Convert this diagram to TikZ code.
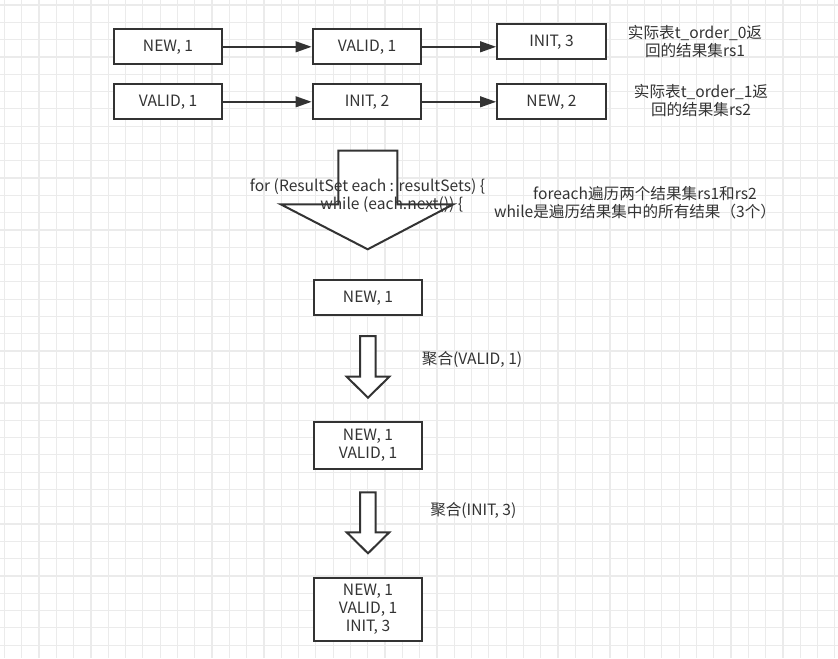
\documentclass[tikz,border=0pt]{standalone}
\usepackage{fontspec}
\setmainfont{Noto Sans CJK SC}
\usetikzlibrary{arrows.meta}
\definecolor{gridc}{HTML}{EBEBEB}
\definecolor{ink}{HTML}{333333}
\tikzset{
  box/.style={draw=ink,line width=1.5pt,fill=white,minimum width=81.5pt,minimum height=26pt,inner sep=0pt,font=\fontsize{11.7pt}{13.3pt}\selectfont,text=ink,align=center},
  link/.style={draw=ink,line width=1.5pt,-{Triangle[length=12pt,width=8pt]}},
  label/.style={font=\fontsize{11.7pt}{13.5pt}\selectfont,text=ink,inner sep=0pt,align=center},
  bigarrow/.style={draw=ink,line width=1.5pt,fill=white,line join=miter}
}
\begin{document}
\begin{tikzpicture}[x=0.75pt,y=-0.75pt]
\useasboundingbox (0,0) rectangle (838,658);
\fill[white] (0,0) rectangle (838,658);
% grid
\foreach \i in {0,...,48} \draw[gridc,line width=0.9pt] ({4.4+17.3*\i},0) -- ++(0,658);
\foreach \j in {0,...,38} \draw[gridc,line width=0.9pt] (0,{5+17.3*\j}) -- ++(838,0);

% top rows
\node[box] (a1) at (168,46.8) {NEW, 1};
\node[box] (a2) at (367,46.8) {VALID, 1};
\node[box] (a3) at (551.5,41.8) {INIT, 3};
\node[box] (b1) at (168,101.8) {VALID, 1};
\node[box] (b2) at (367,101.8) {INIT, 2};
\node[box] (b3) at (551.5,101.8) {NEW, 2};
\draw[link] (a1) -- (a2);
\draw[link] (a2.east) -- (a2.east -| a3.west);
\draw[link] (b1) -- (b2);
\draw[link] (b2) -- (b3);

\node[label] (t0) at (695,42) {实际表t\_order\_0返\\回的结果集rs1};
\node[label] (t1) at (701,100.5) {实际表t\_order\_1返\\回的结果集rs2};

% big arrow
\draw[bigarrow] (338.3,150.7) -- (397.3,150.7) -- (397.3,204.3) -- (453.3,204.3) -- (367.7,249.3) -- (280.7,204.3) -- (338.3,204.3) -- cycle;
\node[label] (f1) at (367.5,186.7) {for (ResultSet each : resultSets) \{};
\node[label] (f2) at (391.7,205) {while (each.next()) \{};

\node[label] (d1) at (645,193.3) {foreach遍历两个结果集rs1和rs2};
\node[label] (d2) at (635,211.7) {while是遍历结果集中的所有结果（3个）};

% column
\node[box] (c1) at (368,297.8) {NEW, 1};
\node[box,minimum height=35pt] (c2) at (368,445.3) {NEW, 1\\VALID, 1};
\node[box,minimum height=47.5pt] (c3) at (368,609.2) {NEW, 1\\VALID, 1\\INIT, 3};

\draw[bigarrow] (360,336) -- (375.7,336) -- (375.7,376.7) -- (389.3,376.7) -- (368,397.7) -- (346.7,376.7) -- (360,376.7) -- cycle;
\node[label,anchor=west] (g1) at (421.7,359.3) {聚合(VALID, 1)};

\draw[bigarrow] (360,492.3) -- (375.7,492.3) -- (375.7,532.3) -- (389.3,532.3) -- (368,553.3) -- (346.7,532.3) -- (360,532.3) -- cycle;
\node[label,anchor=west] (g2) at (430,510) {聚合(INIT, 3)};
\end{tikzpicture}
\end{document}
